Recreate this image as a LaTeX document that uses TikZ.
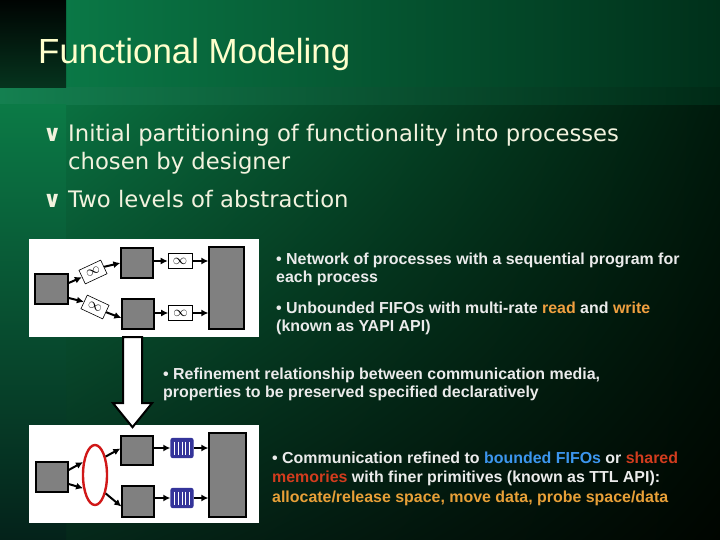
\documentclass[tikz,border=0pt]{standalone}
\usepackage{fontspec}
\setmainfont{Liberation Sans}
\newfontfamily\bulfont{DejaVu Sans}
\usetikzlibrary{arrows.meta,shapes.geometric,calc,shadings}
\definecolor{titlecol}{HTML}{FFFFCC}
\definecolor{bulcol}{HTML}{F2F2DE}
\definecolor{txtcol}{HTML}{EBEBEB}
\definecolor{procgray}{HTML}{808080}
\definecolor{hlorange}{HTML}{F0A040}
\definecolor{hlblue}{HTML}{3C96EE}
\definecolor{hlred}{HTML}{D23C1E}
\definecolor{hlgold}{HTML}{E8A038}
\definecolor{fifoblue}{HTML}{34349A}
\definecolor{memred}{HTML}{D01818}
\definecolor{mainUL}{HTML}{0A7040}
\definecolor{mainUR}{HTML}{001A0C}
\definecolor{mainLL}{HTML}{05281A}
\definecolor{mainLR}{HTML}{000500}
\definecolor{topL}{HTML}{0A7846}
\definecolor{topR}{HTML}{00301A}
\definecolor{bandL}{HTML}{148050}
\definecolor{bandR}{HTML}{002A16}
\definecolor{stripTop}{HTML}{000402}
\definecolor{stripMid}{HTML}{06341E}
\definecolor{stripG}{HTML}{0B7A46}
\definecolor{stripB}{HTML}{04221A}
\begin{document}
\begin{tikzpicture}[x=1bp,y=-1bp,
  proc/.style={draw=black,line width=1.3bp,fill=procgray,inner sep=0},
  ufifo/.style={draw=black,line width=0.6bp,fill=white,inner sep=0,
     minimum width=24bp,minimum height=15bp,font=\fontsize{14}{14}\selectfont},
  bfifo/.style={draw=fifoblue,line width=1.4bp,fill=fifoblue,inner sep=0,
     minimum width=22bp,minimum height=19bp,rounded corners=2bp,
     path picture={\foreach \k in {1,...,5}{
        \draw[white,line width=1.1bp]
          ($(path picture bounding box.north west)+(\k*3.7,3)$) --
          ($(path picture bounding box.south west)+(\k*3.7,-3)$);}}},
  conn/.style={line width=2bp,-{Latex[length=7bp,width=7bp]}},
  panel/.style={fill=white,draw=none,inner sep=0},
  txt/.style={inner sep=0,anchor=base west,text=txtcol,font=\bfseries\fontsize{16}{16}\selectfont},
  btxt/.style={inner sep=0,anchor=base west,text=bulcol,font=\bulfont\fontsize{22.8}{22.8}\selectfont},
  bmark/.style={btxt,font=\bulfont\bfseries\fontsize{22.8}{22.8}\selectfont}
]
\useasboundingbox (0,0) rectangle (720,540);
% ---------- background ----------
\shade[upper left=mainUL,upper right=mainUR,lower left=mainLL,lower right=mainLR]
  (66,105) rectangle (720,540);
\shade[upper left=topL,upper right=topR,lower left=topL,lower right=topR]
  (66,0) rectangle (720,88);
\shade[upper left=bandL,upper right=bandR,lower left=bandL,lower right=bandR]
  (0,88) rectangle (720,105);
\shade[top color=stripTop,bottom color=stripMid] (0,0) rectangle (66,88);
\shade[top color=stripG,bottom color=stripB] (0,105) rectangle (66,540);

% ---------- title ----------
\node[inner sep=0,anchor=base west,text=titlecol,font=\fontsize{35}{35}\selectfont] (title) at (38,64) {Functional Modeling};

% ---------- main bullets ----------
\node[bmark] (b1) at (43,142) {∨};
\node[btxt] (l1) at (68,142) {Initial partitioning of functionality into processes};
\node[btxt] (l2) at (68,170) {chosen by designer};
\node[bmark] (b2) at (43,208) {∨};
\node[btxt] (l3) at (68,208) {Two levels of abstraction};

% ---------- top diagram ----------
\node[panel,minimum width=230bp,minimum height=98bp] (TB) at (144,288) {};
\node[proc,minimum width=33bp,minimum height=30bp] (P1) at (51.5,289) {};
\node[proc,minimum width=32bp,minimum height=30bp] (P2) at (137,263) {};
\node[proc,minimum width=32bp,minimum height=30bp] (P3) at (138,314) {};
\node[proc,minimum width=35bp,minimum height=82bp] (P4) at (226.5,288) {};
\node[ufifo,rotate=25] (F1) at (93,272) {$\infty$};
\node[ufifo,rotate=-25] (F2) at (95,307) {$\infty$};
\node[ufifo] (F3) at (180,261) {$\infty$};
\node[ufifo] (F4) at (180.5,313) {$\infty$};
\draw[conn] ($(P1.east)+(0,-6)$) -- (F1.west);
\draw[conn] (F1.east) -- (P2.west);
\draw[conn] ($(P1.east)+(0,9)$) -- (F2.west);
\draw[conn] (F2.east) -- ($(P3.west)+(0,4)$);
\draw[conn] (P2.east |- F3.west) -- (F3.west);
\draw[conn] (F3.east) -- (P4.west |- F3.east);
\draw[conn] (P3.east |- F4.west) -- (F4.west);
\draw[conn] (F4.east) -- (P4.west |- F4.east);

% ---------- bottom diagram ----------
\node[panel,minimum width=230bp,minimum height=98bp] (BB) at (144,474) {};
\node[proc,minimum width=32bp,minimum height=30bp] (Q1) at (52,477) {};
\node[proc,minimum width=32bp,minimum height=29bp] (Q2) at (137,450.5) {};
\node[proc,minimum width=32bp,minimum height=31bp] (Q3) at (138,501.5) {};
\node[proc,minimum width=37bp,minimum height=84bp] (Q4) at (227.5,475) {};
\node[ellipse,draw=memred,line width=2.4bp,inner sep=0,minimum width=24bp,minimum height=60bp] (E) at (95,475) {};
\node[bfifo] (G1) at (182,448) {};
\node[bfifo] (G2) at (182,498) {};
\draw[conn] ($(Q1.east)+(0,-7)$) -- (E.133);
\draw[conn] ($(Q1.east)+(0,7)$) -- (E.228);
\draw[conn] (E.60) -- ($(Q2.west)+(0,-2)$);
\draw[conn] (E.-60) -- ($(Q3.west)+(0,5)$);
\draw[conn] (Q2.east |- G1.west) -- (G1.west);
\draw[conn] (G1.east) -- (Q4.west |- G1.east);
\draw[conn] (Q3.east |- G2.west) -- (G2.west);
\draw[conn] (G2.east) -- (Q4.west |- G2.east);

% ---------- refinement arrow ----------
\coordinate (A0) at (TB.south -| 132.5,0);
\draw[fill=white,draw=black,line width=2bp,line join=miter]
  ($(A0)+(-9.5,0)$) -- ($(A0)+(9.5,0)$) -- ($(A0)+(9.5,66)$) -- ($(A0)+(19.5,66)$)
  -- ($(A0)+(0,90)$) -- ($(A0)+(-19.5,66)$) -- ($(A0)+(-9.5,66)$) -- cycle;

% ---------- side texts ----------
\node[txt] (t1) at (276,265) {• Network of processes with a sequential program for};
\node[txt] (t2) at (276,283) {each process};
\node[txt] (t3) at (276,313) {• Unbounded FIFOs with multi-rate \textcolor{hlorange}{read} and \textcolor{hlorange}{write}};
\node[txt] (t4) at (276,331) {(known as YAPI API)};
\node[txt] (t5) at (163,379) {• Refinement relationship between communication media,};
\node[txt] (t6) at (163,397) {properties to be preserved specified declaratively};
\node[txt] (t7) at (272,463) {• Communication refined to \textcolor{hlblue}{bounded FIFOs} or \textcolor{hlred}{shared}};
\node[txt] (t8) at (272,482) {\textcolor{hlred}{memories} with finer primitives (known as TTL API):};
\node[txt] (t9) at (272,502) {\textcolor{hlgold}{allocate/release space, move data, probe space/data}};
\end{tikzpicture}
\end{document}
